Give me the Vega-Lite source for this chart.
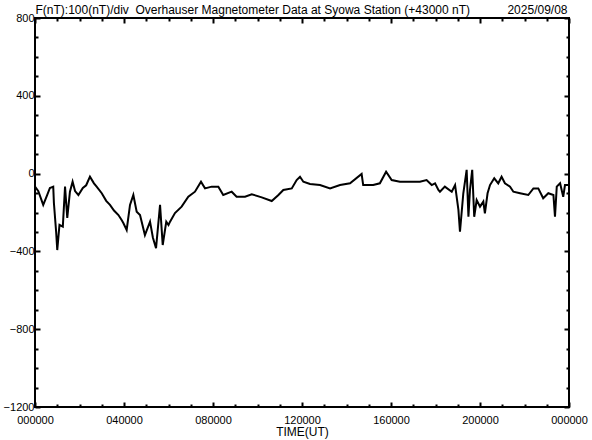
{
  "$schema": "https://vega.github.io/schema/vega-lite/v6.json",
  "width": 534,
  "height": 389,
  "autosize": {"type": "none"},
  "padding": {"left": 35, "top": 18, "right": 23, "bottom": 33},
  "background": "white",
  "config": {
    "view": {"stroke": "black", "strokeWidth": 2},
    "axis": {"labelFont": "Liberation Sans", "titleFont": "Liberation Sans", "labelColor": "black", "titleColor": "black", "titleFontWeight": "normal", "grid": false, "domain": false, "tickColor": "black", "tickWidth": 2}
  },
  "data": {"values": [
    {"h": 0.00, "v": -67}, {"h": 0.15, "v": -90}, {"h": 0.37, "v": -161}, {"h": 0.55, "v": -110},
    {"h": 0.67, "v": -74}, {"h": 0.82, "v": -67}, {"h": 0.85, "v": -151}, {"h": 0.95, "v": -300},
    {"h": 1.00, "v": -393}, {"h": 1.10, "v": -264}, {"h": 1.25, "v": -273}, {"h": 1.35, "v": -67},
    {"h": 1.45, "v": -228}, {"h": 1.57, "v": -93}, {"h": 1.69, "v": -42}, {"h": 1.80, "v": -90},
    {"h": 1.95, "v": -110}, {"h": 2.15, "v": -74}, {"h": 2.30, "v": -60}, {"h": 2.47, "v": -16},
    {"h": 2.65, "v": -50}, {"h": 2.77, "v": -67}, {"h": 3.00, "v": -101}, {"h": 3.20, "v": -140},
    {"h": 3.37, "v": -161}, {"h": 3.55, "v": -190}, {"h": 3.75, "v": -213}, {"h": 3.90, "v": -240},
    {"h": 3.97, "v": -254}, {"h": 4.12, "v": -290}, {"h": 4.27, "v": -161}, {"h": 4.42, "v": -110},
    {"h": 4.57, "v": -196}, {"h": 4.72, "v": -213}, {"h": 4.94, "v": -316}, {"h": 5.17, "v": -247},
    {"h": 5.30, "v": -330}, {"h": 5.44, "v": -383}, {"h": 5.62, "v": -161}, {"h": 5.74, "v": -367},
    {"h": 5.90, "v": -247}, {"h": 6.00, "v": -264}, {"h": 6.07, "v": -247}, {"h": 6.29, "v": -203},
    {"h": 6.59, "v": -170}, {"h": 6.89, "v": -119}, {"h": 7.19, "v": -93}, {"h": 7.46, "v": -42},
    {"h": 7.64, "v": -76}, {"h": 7.94, "v": -67}, {"h": 8.24, "v": -67}, {"h": 8.46, "v": -110},
    {"h": 8.84, "v": -93}, {"h": 9.06, "v": -119}, {"h": 9.44, "v": -119}, {"h": 9.74, "v": -106},
    {"h": 10.19, "v": -122}, {"h": 10.64, "v": -141}, {"h": 10.94, "v": -110}, {"h": 11.16, "v": -84},
    {"h": 11.54, "v": -76}, {"h": 11.76, "v": -33}, {"h": 11.91, "v": -16}, {"h": 12.06, "v": -42},
    {"h": 12.36, "v": -53}, {"h": 12.81, "v": -59}, {"h": 13.26, "v": -76}, {"h": 13.71, "v": -59},
    {"h": 14.16, "v": -50}, {"h": 14.68, "v": -2}, {"h": 14.75, "v": -59}, {"h": 15.20, "v": -59},
    {"h": 15.50, "v": -50}, {"h": 15.78, "v": 10}, {"h": 16.03, "v": -33}, {"h": 16.40, "v": -42},
    {"h": 16.85, "v": -42}, {"h": 17.30, "v": -42}, {"h": 17.60, "v": -33}, {"h": 17.83, "v": -59},
    {"h": 17.98, "v": -50}, {"h": 18.13, "v": -84}, {"h": 18.20, "v": -93}, {"h": 18.42, "v": -67},
    {"h": 18.73, "v": -93}, {"h": 18.88, "v": -59}, {"h": 19.03, "v": -187}, {"h": 19.10, "v": -299},
    {"h": 19.25, "v": -101}, {"h": 19.40, "v": 19}, {"h": 19.48, "v": -222}, {"h": 19.55, "v": -84},
    {"h": 19.65, "v": 19}, {"h": 19.74, "v": -222}, {"h": 19.85, "v": -136}, {"h": 20.00, "v": -170},
    {"h": 20.15, "v": -144}, {"h": 20.22, "v": -204}, {"h": 20.34, "v": -101}, {"h": 20.45, "v": -59},
    {"h": 20.64, "v": -24}, {"h": 20.82, "v": -50}, {"h": 20.97, "v": -16}, {"h": 21.12, "v": -50},
    {"h": 21.35, "v": -67}, {"h": 21.50, "v": -93}, {"h": 21.80, "v": -101}, {"h": 22.17, "v": -110},
    {"h": 22.40, "v": -76}, {"h": 22.62, "v": -76}, {"h": 22.84, "v": -127}, {"h": 23.07, "v": -101},
    {"h": 23.30, "v": -110}, {"h": 23.37, "v": -222}, {"h": 23.45, "v": -67}, {"h": 23.60, "v": -50},
    {"h": 23.74, "v": -119}, {"h": 23.82, "v": -59}, {"h": 23.97, "v": -59}, {"h": 24.00, "v": -60}
  ]},
  "resolve": {"axis": {"x": "independent", "y": "independent"}},
  "layer": [
    {
      "mark": {"type": "line", "color": "black", "strokeWidth": 2, "clip": true},
      "encoding": {
        "x": {"field": "h", "type": "quantitative",
          "scale": {"domain": [0, 24], "nice": false, "zero": false},
          "axis": {"orient": "bottom",
            "values": [0,1,2,3,4,5,6,7,8,9,10,11,12,13,14,15,16,17,18,19,20,21,22,23,24],
            "tickSize": {"condition": {"test": "datum.value % 4 === 0", "value": -5}, "value": -3},
            "labelExpr": "datum.value % 4 === 0 ? (datum.value === 24 ? '000000' : (datum.value < 10 ? '0' : '') + datum.value + '0000') : ''",
            "labelFontSize": 11, "labelPadding": 21, "labelFlush": false, "labelOverlap": false, "labelBaseline": "alphabetic",
            "title": "TIME(UT)", "titleFontSize": 12, "titleX": 267, "titleY": 28, "titleBaseline": "alphabetic", "titleAlign": "center"}},
        "y": {"field": "v", "type": "quantitative",
          "scale": {"domain": [-1200, 800], "nice": false, "zero": false},
          "axis": {"orient": "left",
            "values": [-1200,-1100,-1000,-900,-800,-700,-600,-500,-400,-300,-200,-100,0,100,200,300,400,500,600,700,800],
            "tickSize": {"condition": {"test": "datum.value % 400 === 0", "value": -5}, "value": -3},
            "labelExpr": "datum.value % 400 === 0 ? datum.label : ''",
            "format": "d",
            "labelFontSize": 11, "labelPadding": 6, "labelOverlap": false, "labelFlush": false,
            "title": "F(nT):100(nT)/div\u00a0\u00a0Overhauser Magnetometer Data at Syowa Station (+43000 nT)",
            "titleFontSize": 12, "titleAngle": 0, "titleX": 0, "titleY": -5, "titleAlign": "left", "titleBaseline": "alphabetic"}}
      }
    },
    {
      "mark": {"type": "line", "opacity": 0},
      "encoding": {
        "x": {"field": "h", "type": "quantitative",
          "axis": {"orient": "top",
            "values": [0,1,2,3,4,5,6,7,8,9,10,11,12,13,14,15,16,17,18,19,20,21,22,23,24],
            "tickSize": {"condition": {"test": "datum.value % 4 === 0", "value": -5}, "value": -3},
            "labels": false,
            "title": "2025/09/08", "titleFontSize": 12, "titleX": 532, "titleY": -5, "titleAlign": "right", "titleBaseline": "alphabetic"}},
        "y": {"field": "v", "type": "quantitative",
          "axis": {"orient": "right",
            "values": [-1200,-1100,-1000,-900,-800,-700,-600,-500,-400,-300,-200,-100,0,100,200,300,400,500,600,700,800],
            "tickSize": {"condition": {"test": "datum.value % 400 === 0", "value": -5}, "value": -3},
            "labels": false, "title": null}}
      }
    }
  ]
}
